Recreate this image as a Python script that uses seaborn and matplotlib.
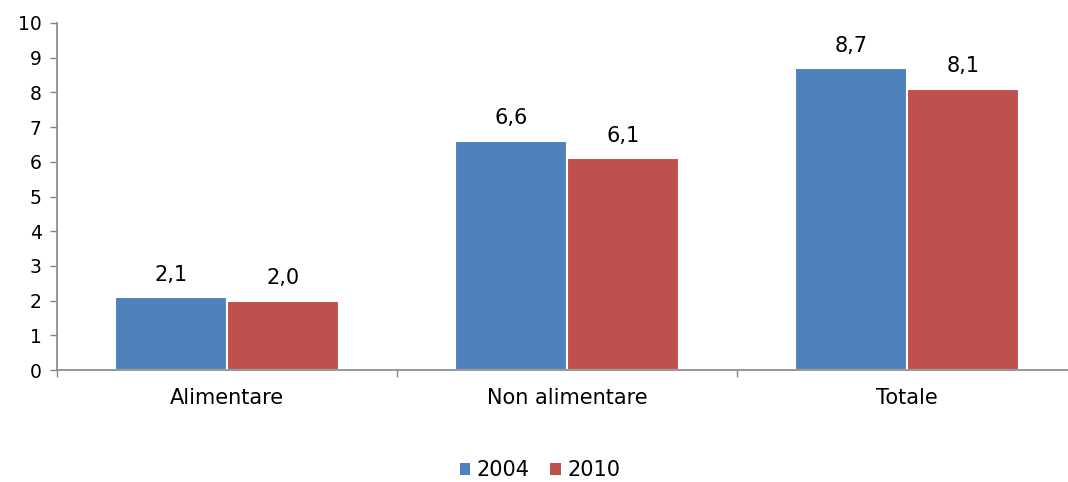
import matplotlib
matplotlib.use("Agg")
import matplotlib.pyplot as plt
import seaborn as sns
import pandas as pd
from matplotlib.patches import Patch

categories = ["Alimentare", "Non alimentare", "Totale"]
years = ["2004", "2010"]
values_2004 = [2.1, 6.6, 8.7]
values_2010 = [2.0, 6.1, 8.1]
colors = ["#4F81BD", "#C0504D"]

df = pd.DataFrame({
    "cat": categories * 2,
    "year": [years[0]] * 3 + [years[1]] * 3,
    "val": values_2004 + values_2010,
})

sns.set_theme(style="white")
plt.rcParams["font.family"] = ["DejaVu Sans"]
plt.rcParams["text.color"] = "black"

fig = plt.figure(figsize=(10.68, 4.82), dpi=100)
ax = fig.add_axes([57 / 1068, 112 / 482, 1020 / 1068, 347 / 482])

sns.barplot(data=df, x="cat", y="val", hue="year", palette=colors, saturation=1,
            width=0.66, gap=0, edgecolor="white", linewidth=1.5,
            order=categories, hue_order=years, ax=ax, legend=False)

for cont in ax.containers:
    labels = [f"{v:.1f}".replace(".", ",") for v in cont.datavalues]
    ax.bar_label(cont, labels=labels, padding=9, fontsize=15, color="#000000")

ax.set_ylim(0, 10)
ax.set_xlim(-0.5, 2.5)
ax.set_yticks(range(0, 11))
ax.set_xlabel("")
ax.set_ylabel("")
ax.tick_params(axis="y", labelsize=13.5, left=True, length=5, width=1, color="#868686", pad=6, labelcolor="black")
ax.tick_params(axis="x", labelsize=15, bottom=False, pad=7, labelcolor="black")
ax.set_xticks([-0.5, 0.5, 1.5, 2.5], minor=True)
ax.tick_params(axis="x", which="minor", bottom=True, length=5, width=1, color="#868686")

for s in ["top", "right"]:
    ax.spines[s].set_visible(False)
for s in ["left", "bottom"]:
    ax.spines[s].set_color("#868686")
    ax.spines[s].set_linewidth(1.2)

handles = [Patch(facecolor=c, edgecolor="none", label=y) for c, y in zip(colors, years)]
fig.legend(handles=handles, loc="center", bbox_to_anchor=(540 / 1068, 1 - 470 / 482),
           ncol=2, frameon=False, fontsize=15, handlelength=0.5, handleheight=0.5,
           handletextpad=0.3, columnspacing=1.0, labelcolor="black")

fig.savefig("out.png", dpi=100)
